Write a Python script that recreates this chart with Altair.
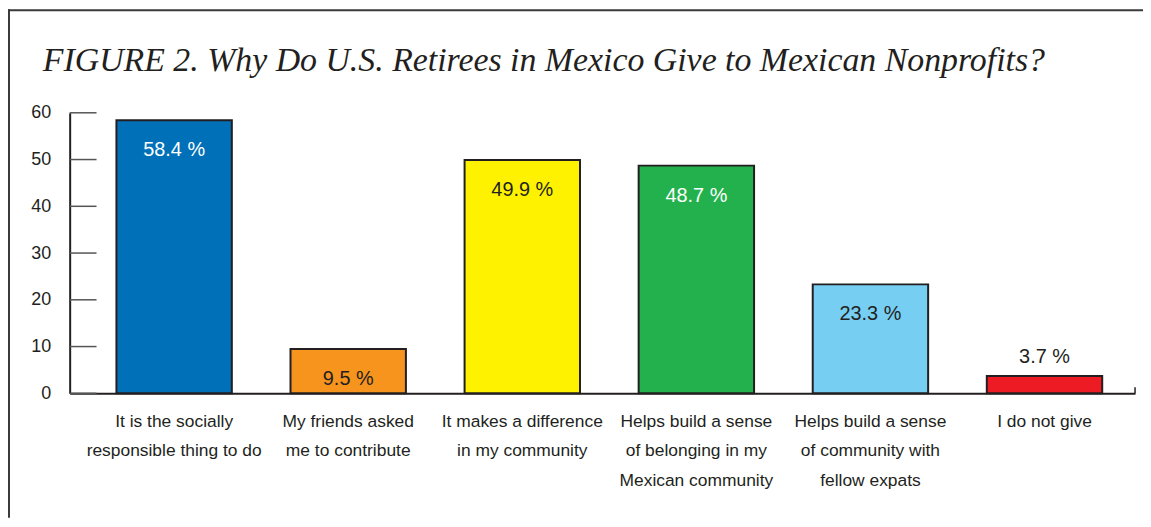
import altair as alt
import pandas as pd

categories = [
    "It is the socially|responsible thing to do",
    "My friends asked|me to contribute",
    "It makes a difference|in my community",
    "Helps build a sense|of belonging in my|Mexican community",
    "Helps build a sense|of community with|fellow expats",
    "I do not give",
]
values = [58.4, 9.5, 49.9, 48.7, 23.3, 3.7]
bar_colors = ["#0070b8", "#f7941e", "#fff200", "#22b14c", "#76cef2", "#ed1c24"]
text_colors = ["#ffffff", "#231f20", "#231f20", "#ffffff", "#231f20", "#231f20"]
y_ticks = [0, 10, 20, 30, 40, 50, 60]
title_text = "FIGURE 2. Why Do U.S. Retirees in Mexico Give to Mexican Nonprofits?"

df = pd.DataFrame({"cat": categories, "value": values})
ticks_df = pd.DataFrame({"t": y_ticks})

W, H = 1071, 282
PAD = {"left": 62, "top": 104, "right": 8, "bottom": 125}
INK = "#231f20"

x_enc = alt.X(
    "cat:N",
    sort=None,
    scale=alt.Scale(paddingInner=0.337, paddingOuter=0.2286, align=0.5875),
    axis=alt.Axis(
        title=None,
        labelAngle=0,
        ticks=False,
        domainColor=INK,
        domainWidth=2,
        labelPadding=19,
        labelLineHeight=30,
        labelFontSize=17.5,
        labelFont="Liberation Sans",
        labelColor=INK,
        labelBaseline="top",
        labelExpr="split(datum.label, '|')",
    ),
)
y_scale = alt.Scale(domain=[0, 60], nice=False)

bars = alt.Chart(df).mark_bar(stroke=INK, strokeWidth=2).encode(
    x=x_enc,
    y=alt.Y(
        "value:Q",
        scale=y_scale,
        axis=alt.Axis(
            title=None,
            values=y_ticks,
            ticks=False,
            grid=False,
            domainColor=INK,
            domainWidth=2,
            labelPadding=19,
            labelFontSize=18,
            labelFont="Liberation Sans",
            labelColor=INK,
        ),
    ),
    color=alt.Color("cat:N", scale=alt.Scale(domain=categories, range=bar_colors), legend=None),
)

labels = (
    alt.Chart(df)
    .transform_calculate(
        label_y="datum.value > 5 ? datum.value - 6.4 : datum.value + 4.0",
        label="format(datum.value, '.1f') + ' %'",
        tcol="datum.cat",
    )
    .mark_text(fontSize=20, font="Liberation Sans", baseline="middle")
    .encode(
        x=alt.X("cat:N", sort=None),
        y=alt.Y("label_y:Q"),
        text="label:N",
        color=alt.Color("tcol:N", scale=alt.Scale(domain=categories, range=text_colors), legend=None),
    )
)

tick_rules = alt.Chart(ticks_df).mark_rule(color="#555555", strokeWidth=1.5).encode(
    y=alt.Y("t:Q"), x=alt.value(0), x2=alt.value(27)
)

one = alt.Data(values=[{"a": 1}])
end_tick = alt.Chart(one).mark_rule(color=INK, strokeWidth=1.5).encode(
    x=alt.value(W), y=alt.value(H - 6), y2=alt.value(H)
)
frame_v = alt.Chart(one).mark_rule(color="#3a3a3a", strokeWidth=2).encode(
    x=alt.value(-PAD["left"] + 1), y=alt.value(-PAD["top"]), y2=alt.value(H + PAD["bottom"])
)
frame_h = alt.Chart(one).mark_rule(color="#3a3a3a", strokeWidth=2).encode(
    x=alt.value(-PAD["left"]), x2=alt.value(W + PAD["right"]), y=alt.value(-PAD["top"] + 1)
)
title = alt.Chart(one).mark_text(
    text=title_text,
    font="Liberation Serif",
    fontStyle="italic",
    fontSize=34,
    align="left",
    baseline="alphabetic",
    color=INK,
).encode(x=alt.value(-27), y=alt.value(-42))

chart = (
    alt.layer(bars, labels, tick_rules, end_tick, frame_v, frame_h, title)
    .resolve_scale(color="independent")
    .properties(width=W, height=H, autosize=alt.AutoSizeParams(type="none"), padding=PAD)
    .configure_view(stroke=None)
)

chart.save("out.html", embed_options={"renderer": "svg", "actions": False})
